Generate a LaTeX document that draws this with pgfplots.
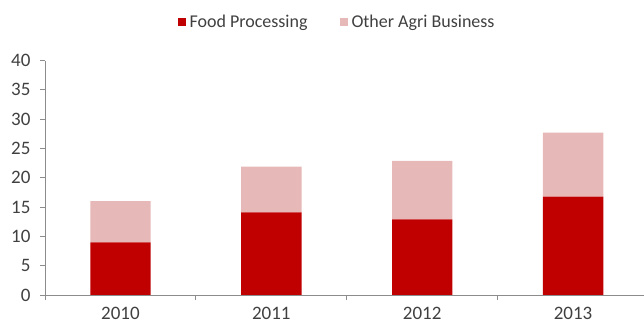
\documentclass[border=0pt]{standalone}
\usepackage{fontspec}
\setmainfont{Carlito}
\usepackage{pgfplots}
\pgfplotsset{compat=1.18}
\definecolor{foodred}{HTML}{C00000}
\definecolor{agripink}{HTML}{E6B9B8}
\definecolor{axgray}{HTML}{8C8C8C}
\definecolor{txt}{HTML}{404040}
\begin{document}
\begin{tikzpicture}
\path[use as bounding box] (-45pt,-31pt) rectangle (599pt,295pt);
\begin{axis}[
  at={(0pt,0pt)}, anchor=south west,
  scale only axis,
  width=599pt, height=234.4pt,
  ybar stacked,
  bar width=0.4,
  xmin=-0.5, xmax=3.47,
  ymin=0, ymax=40,
  axis x line=bottom, axis y line=left,
  axis line style={-, draw=axgray, line width=0.8pt},
  ytick={0,5,...,40},
  xtick={0,1,2,3},
  xticklabels={2010,2011,2012,2013},
  minor xtick={-0.5,0.5,1.5,2.5},
  major x tick style={draw=none},
  minor x tick style={draw=axgray, line width=0.8pt},
  minor tick length=5pt,
  y tick style={draw=axgray, line width=0.8pt},
  major tick length=5pt,
  tick align=outside,
  /pgf/number format/assume math mode=true,
  ticklabel style={font=\fontsize{19}{22}\selectfont, text=txt},
  yticklabel style={xshift=-6pt},
  xticklabel style={yshift=-4pt},
  legend style={at={(0.4875,1.165)}, anchor=center, draw=none, fill=none,
    font=\fontsize{18}{21}\selectfont, text=txt, legend columns=2,
    /tikz/every odd column/.append style={column sep=2pt},
    /tikz/every even column/.append style={column sep=30pt}},
  legend image code/.code={\fill[#1] (0pt,-4pt) rectangle (8pt,4pt);},
]
\addplot[fill=foodred, draw=none] coordinates {(0,9) (1,14.1) (2,12.9) (3,16.8)};
\addplot[fill=agripink, draw=none] coordinates {(0,7) (1,7.8) (2,10) (3,10.9)};
\legend{Food Processing, Other Agri Business}
\end{axis}
\end{tikzpicture}
\end{document}
